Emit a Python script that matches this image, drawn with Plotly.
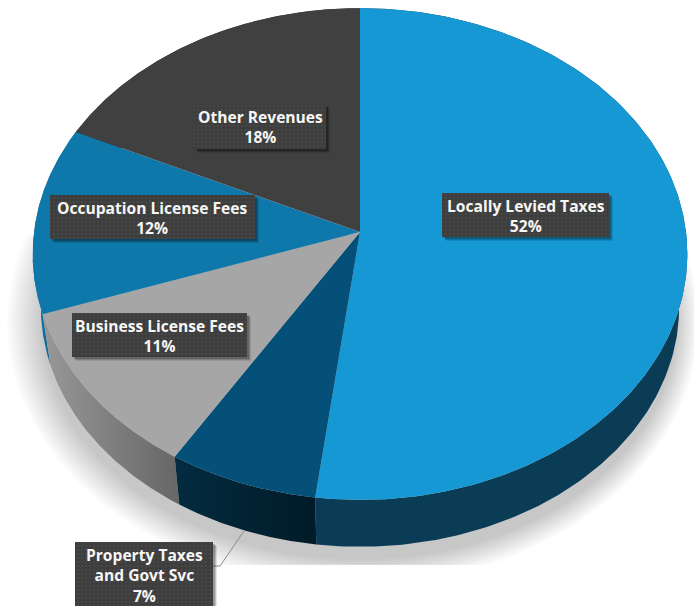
import numpy as np
import plotly.graph_objects as go

categories = [["Locally Levied Taxes"], ["Property Taxes", "and Govt Svc"], ["Business License Fees"],
              ["Occupation License Fees"], ["Other Revenues"]]
shares = [52.0, 6.8, 10.9, 12.3, 18.0]
pct_labels = ["52%", "7%", "11%", "12%", "18%"]

top_colors = ["#1698d5", "#045078", "#a6a6a6", "#0f78aa", "#404041"]
side_colors = ["#0a3d55", "#022638", "#7c7c7c", "#0e6c9c", "#333334"]
side_grads = [None, ["#032b40", "#011b28"], ["#989898", "#666666"], None, None]
label_boxes = [(442, 609, 193, 237), (75, 213, 542, 606), (72, 247, 313, 357),
               (50, 255, 195, 239), (194, 326, 104, 149)]
label_first_line = [206, 555, 326, 208, 117]

W, H = 694, 606
CX, CY, A, B, K = 360, 232, 326, 243.9, 0.0895


def top(frac):
    t = 2 * np.pi * np.asarray(frac)
    u, v = np.sin(t), -np.cos(t)
    d = 1 - K * v
    return CX + A * u / d, CY + B * v / d


def lower(x, y):
    return CX + (x - CX) * 0.975, 307 + (y - 254) * 0.975


fig = go.Figure()


def poly(x, y, **kw):
    fig.add_trace(go.Scatter(x=x, y=y, mode="lines", fill="toself", line=dict(width=0),
                             hoverinfo="skip", showlegend=False, **kw))


# soft shadow under the disc, cut by the picture frame of the original
theta = np.linspace(0, 2 * np.pi, 361)
N = 14
for i in range(N):
    f = 1 - i / (N - 1)
    rx = 318 + 28 * f
    ry = 238 + 26 * f
    sx = 359 - 6 * f + rx * np.cos(theta)
    sy = 322 + ry * np.sin(theta)
    poly(sx, np.clip(sy, 235, 565), fillcolor="rgba(0,0,0,0.0145)")

edges = np.cumsum([0] + shares) / sum(shares)
slices = [np.linspace(edges[i], edges[i + 1], 200) for i in range(len(shares))]

# side walls
for i in [4, 0, 3, 2, 1]:
    x, y = top(slices[i])
    lx, ly = lower(x, y)
    kw = dict(fillcolor=side_colors[i])
    if side_grads[i]:
        kw = dict(fillgradient=dict(type="horizontal",
                                    colorscale=[[0, side_grads[i][0]], [1, side_grads[i][1]]]))
    poly(np.r_[x, lx[::-1]], np.r_[y, ly[::-1]], **kw)

# top faces
for i in range(len(shares)):
    x, y = top(slices[i])
    poly(np.r_[CX, x, CX], np.r_[CY, y, CY], fillcolor=top_colors[i])

# leader line
fig.add_trace(go.Scatter(x=[213, 220, 244], y=[566, 566, 531], mode="lines",
                         line=dict(color="#8c8c8c", width=1), hoverinfo="skip", showlegend=False))

# label boxes and text
for i, (x0, x1, y0, y1) in enumerate(label_boxes):
    for off, alpha in [(4, 0.1), (3, 0.16), (2, 0.2)]:
        poly([x0 + off, x1 + off, x1 + off, x0 + off, x0 + off],
             [y0 + off, y0 + off, y1 + off, y1 + off, y0 + off],
             fillcolor=f"rgba(0,0,0,{alpha})")
    poly([x0, x1, x1, x0, x0], [y0, y0, y1, y1, y0], fillcolor="#3f3f3f",
         fillpattern=dict(shape=".", fgcolor="#4f4f4f", bgcolor="#3d3d3d", size=4, solidity=0.3))
    lines = categories[i] + [pct_labels[i]]
    fig.add_annotation(x=(x0 + x1) / 2, y=label_first_line[i] + (len(lines) - 1) * 10,
                       text="<br>".join(lines), align="center",
                       showarrow=False, xanchor="center", yanchor="middle",
                       font=dict(family="Open Sans", size=15.6, color="#f6f6f6", weight="bold"))

fig.update_layout(width=W, height=H, margin=dict(l=0, r=0, t=0, b=0),
                  paper_bgcolor="white", plot_bgcolor="white", showlegend=False,
                  xaxis=dict(range=[0, W], visible=False, fixedrange=True),
                  yaxis=dict(range=[H, 0], visible=False, fixedrange=True))
fig.write_html("out.html", config=dict(displayModeBar=False),
               post_script="document.body.style.margin='0';document.body.style.overflow='hidden';")
